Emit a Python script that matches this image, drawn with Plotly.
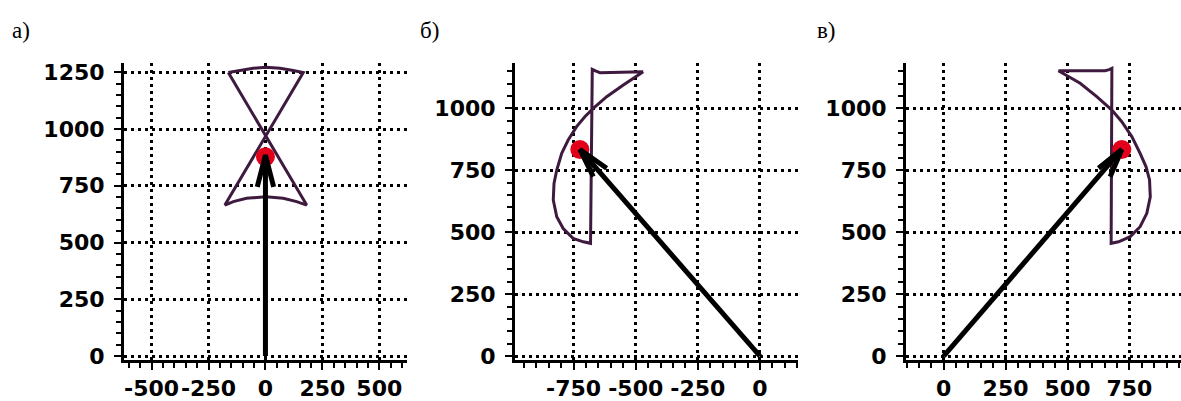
import plotly.graph_objects as go

W, H = 1181, 401

# ---------------- data ----------------
# panel а)
a_curve_x = [-163, -112, -54, 2, 64, 122, 166, -178, -141, -83, 2, 78, 137, 181, -163]
a_curve_y = [1249, 1258, 1268, 1272, 1268, 1258, 1249, 665, 680, 695, 702, 695, 680, 665, 1249]
a_point = (0, 878)
a_arrow_x = [0, 0]
a_arrow_y = [0, 885]
a_barb_x = [-36, 0, 36]
a_barb_y = [745, 885, 745]

# panel б)
b_curve_x = [-470, -644, -660, -675, -682, -711, -752, -792, -818, -832, -829, -818, -798,
             -772, -738, -705, -671, -617, -550, -470]
b_curve_y = [1148, 1144, 1150, 1157, 455, 461, 475, 515, 562, 630, 697, 751, 818,
             872, 926, 966, 1000, 1047, 1094, 1148]
b_point = (-725, 834)
b_arrow_x = [0, -725]
b_arrow_y = [0, 834]
b_barb_x = [-617, -725, -671]
b_barb_y = [758, 834, 724]

# panel в)
c_curve_x = [463, 652, 668, 679, 676, 706, 753, 793, 820, 834, 831, 817, 793,
             760, 719, 679, 618, 551, 463]
c_curve_y = [1152, 1152, 1156, 1161, 455, 461, 482, 522, 576, 643, 711, 764, 818,
             885, 946, 993, 1047, 1101, 1152]
c_point = (719, 834)
c_arrow_x = [0, 719]
c_arrow_y = [0, 834]
c_barb_x = [625, 719, 672]
c_barb_y = [758, 834, 724]

a_xticks = [-500, -250, 0, 250, 500]
a_xticktext = ["-500", "-250", "0", "250", "500"]
a_yticks = [0, 250, 500, 750, 1000, 1250]
b_xticks = [-750, -500, -250, 0]
b_xticktext = ["-750", "-500", "-250", "0"]
bc_yticks = [0, 250, 500, 750, 1000]
c_xticks = [0, 250, 500, 750]
c_xticktext = ["0", "250", "500", "750"]

panel_labels = ["а)", "б)", "в)"]

# ---------------- styling ----------------
CURVE = "#3f1a3f"
RED = "#e2001a"
TICKFONT = dict(family="DejaVu Sans", size=22, color="black", weight="bold")

fig = go.Figure()

panels = [
    dict(cx=a_curve_x, cy=a_curve_y, pt=a_point, ax_=a_arrow_x, ay_=a_arrow_y,
         bx=a_barb_x, by=a_barb_y, xt=a_xticks, xtt=a_xticktext, yt=a_yticks,
         dom=(124, 407), xr=(-621, 621.5), yr=(-17.6, 1291)),
    dict(cx=b_curve_x, cy=b_curve_y, pt=b_point, ax_=b_arrow_x, ay_=b_arrow_y,
         bx=b_barb_x, by=b_barb_y, xt=b_xticks, xtt=b_xticktext, yt=bc_yticks,
         dom=(515, 798), xr=(-986, 153), yr=(-16, 1183)),
    dict(cx=c_curve_x, cy=c_curve_y, pt=c_point, ax_=c_arrow_x, ay_=c_arrow_y,
         bx=c_barb_x, by=c_barb_y, xt=c_xticks, xtt=c_xticktext, yt=bc_yticks,
         dom=(906, 1181), xr=(-152, 958), yr=(-16, 1183)),
]

ydom = [(H - 360) / H, (H - 63) / H]

for i, p in enumerate(panels, start=1):
    xa = "x" if i == 1 else f"x{i}"
    ya = "y" if i == 1 else f"y{i}"
    fig.add_trace(go.Scatter(x=p["cx"], y=p["cy"], mode="lines", xaxis=xa, yaxis=ya,
                             line=dict(color=CURVE, width=3), hoverinfo="skip", showlegend=False))
    fig.add_trace(go.Scatter(x=[p["pt"][0]], y=[p["pt"][1]], mode="markers", xaxis=xa, yaxis=ya,
                             marker=dict(color=RED, size=19, line=dict(width=0)),
                             hoverinfo="skip", showlegend=False))
    fig.add_trace(go.Scatter(x=p["ax_"], y=p["ay_"], mode="lines", xaxis=xa, yaxis=ya,
                             line=dict(color="black", width=5), hoverinfo="skip", showlegend=False))
    fig.add_trace(go.Scatter(x=p["bx"], y=p["by"], mode="lines", xaxis=xa, yaxis=ya,
                             line=dict(color="black", width=5), hoverinfo="skip", showlegend=False))

    common = dict(showline=True, linecolor="black", linewidth=3, automargin=False,
                  showgrid=True, gridcolor="black", gridwidth=2.5, griddash="2.5px,4.5px",
                  zeroline=False, ticks="outside", ticklen=7, tickwidth=2, tickcolor="black",
                  tickfont=TICKFONT, tickangle=0,
                  minor=dict(ticks="outside", ticklen=5, tickwidth=2, tickcolor="black",
                             dtick=50, tick0=0, showgrid=False))
    xkey = "xaxis" if i == 1 else f"xaxis{i}"
    ykey = "yaxis" if i == 1 else f"yaxis{i}"
    fig.update_layout({
        xkey: dict(domain=[p["dom"][0] / W, p["dom"][1] / W], range=list(p["xr"]),
                   anchor=ya, tickmode="array", tickvals=p["xt"], ticktext=p["xtt"],
                   ticklabelstandoff=0, **common),
        ykey: dict(domain=ydom, range=list(p["yr"]), anchor=xa,
                   tickmode="array", tickvals=p["yt"], ticktext=[str(v) for v in p["yt"]],
                   ticklabelstandoff=5, **common),
    })

label_x = [10, 418, 815]
for lx, txt in zip(label_x, panel_labels):
    fig.add_annotation(x=lx / W, y=1 - 30 / H, xref="paper", yref="paper", text=txt,
                       showarrow=False, xanchor="left", yanchor="middle",
                       font=dict(family="Liberation Serif", size=23, color="black"))

fig.update_layout(width=W, height=H, autosize=False,
                  margin=dict(l=0, r=0, t=0, b=0),
                  paper_bgcolor="white", plot_bgcolor="white", showlegend=False)

fig.write_html("out.html", config={"displayModeBar": False},
               post_script="document.body.style.margin='0';document.body.style.overflow='hidden';")
